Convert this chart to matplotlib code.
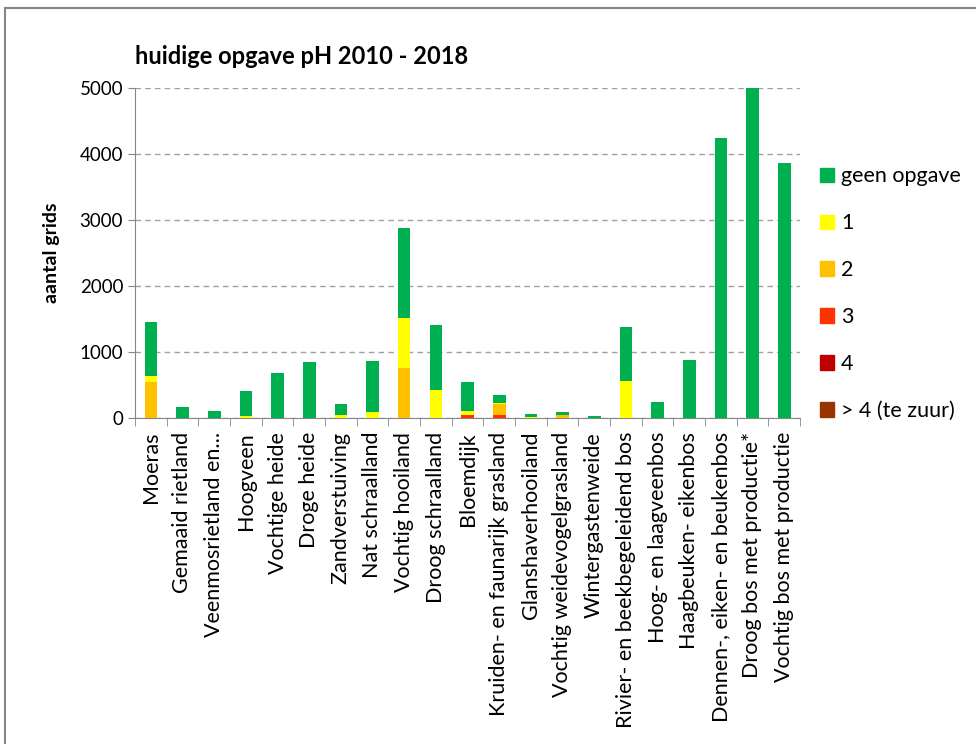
import matplotlib.pyplot as plt
import numpy as np
from matplotlib.patches import Patch, Rectangle

plt.rcParams['font.family'] = ['Lato', 'DejaVu Sans']

categories = ['Moeras', 'Gemaaid rietland', 'Veenmosrietland en...', 'Hoogveen',
              'Vochtige heide', 'Droge heide', 'Zandverstuiving', 'Nat schraalland',
              'Vochtig hooiland', 'Droog schraalland', 'Bloemdijk',
              'Kruiden- en faunarijk grasland', 'Glanshaverhooiland',
              'Vochtig weidevogelgrasland', 'Wintergastenweide',
              'Rivier- en beekbegeleidend bos', 'Hoog- en laagveenbos',
              'Haagbeuken- eikenbos', 'Dennen-, eiken- en beukenbos',
              'Droog bos met productie*', 'Vochtig bos met productie']

# values per pH class (aantal grids)
ph_gt4 = [0, 0, 0, 0, 0, 0, 0, 0, 0, 0, 0, 0, 0, 0, 0, 0, 0, 0, 0, 0, 0]
ph_4 = [0, 0, 0, 0, 0, 0, 0, 0, 0, 0, 0, 0, 0, 0, 0, 0, 0, 0, 0, 0, 0]
ph_3 = [0, 0, 0, 0, 0, 0, 0, 0, 0, 0, 40, 40, 0, 0, 0, 0, 0, 0, 0, 0, 0]
ph_2 = [550, 0, 0, 0, 0, 0, 0, 0, 760, 0, 0, 170, 0, 45, 0, 0, 0, 0, 0, 0, 0]
ph_1 = [80, 0, 0, 35, 0, 0, 45, 85, 760, 425, 60, 15, 20, 0, 0, 560, 0, 0, 0, 0, 0]
geen = [820, 160, 110, 380, 680, 855, 165, 785, 1365, 980, 453, 128, 45, 50, 30,
        815, 238, 883, 4242, 5000, 3864]

series = [
    ('> 4 (te zuur)', ph_gt4, '#993300'),
    ('4', ph_4, '#C00000'),
    ('3', ph_3, '#FF3300'),
    ('2', ph_2, '#FFC000'),
    ('1', ph_1, '#FFFF00'),
    ('geen opgave', geen, '#00B050'),
]

fig = plt.figure(figsize=(9.76, 7.44), dpi=100)
# chart frame like the spreadsheet chart area
fig.patches.append(Rectangle((5 / 976, -0.1), 1.1, 1 - 8 / 744 + 0.1,
                             transform=fig.transFigure, fill=False,
                             edgecolor='#868686', lw=1.5))

ax = fig.add_axes([135 / 976, 1 - 418 / 744, 665 / 976, 330 / 744])

x = np.arange(len(categories))
bottom = np.zeros(len(categories))
for name, vals, col in series:
    vals = np.array(vals, dtype=float)
    ax.bar(x, vals, width=0.4, bottom=bottom, color=col, label=name, zorder=3)
    bottom += vals

ax.set_xlim(-0.5, len(categories) - 0.5)
ax.set_ylim(0, 5000)
ax.set_yticks(range(0, 5001, 1000))
ax.yaxis.grid(True, linestyle=(0, (4, 3)), color='#A0A0A0', lw=1, zorder=0)

ax.set_xticks(x)
ax.set_xticklabels(categories, rotation=90, fontsize=15.5)
ax.set_xticks(np.arange(-0.5, len(categories)), minor=True)
ax.tick_params(axis='x', which='major', length=0, pad=10)
ax.tick_params(axis='x', which='minor', length=6, color='#868686', direction='out')
ax.tick_params(axis='y', length=5, color='#868686', labelsize=13.5)

for s in ['top', 'right']:
    ax.spines[s].set_visible(False)
for s in ['left', 'bottom']:
    ax.spines[s].set_color('#868686')

ax.set_ylabel('aantal grids', fontsize=14, fontweight='bold', labelpad=14)
fig.text(135 / 976, 1 - 57 / 744, 'huidige opgave pH 2010 - 2018',
         fontsize=17, fontweight='bold', va='center', ha='left')

handles = [Patch(color=col, label=name) for name, vals, col in series[::-1]]
fig.legend(handles=handles, loc='upper left', bbox_to_anchor=(801 / 976, 1 - 147 / 744),
           frameon=False, fontsize=15.5, labelspacing=1.25, handlelength=0.65,
           handleheight=0.65, handletextpad=0.3)

fig.savefig('out.png', dpi=100)
